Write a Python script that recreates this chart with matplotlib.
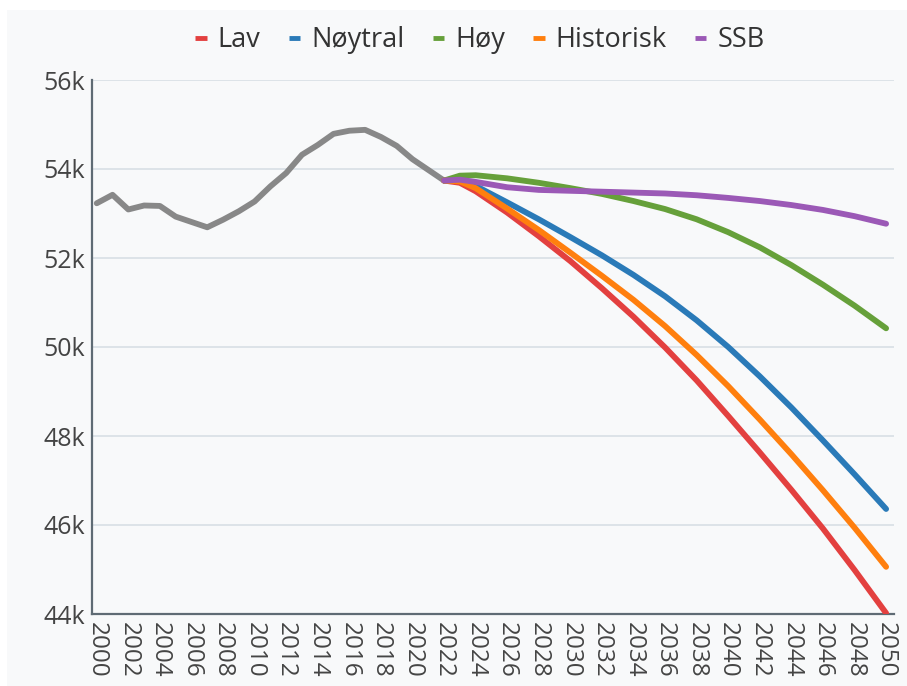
import matplotlib
matplotlib.use("Agg")
import matplotlib.pyplot as plt
from matplotlib.ticker import FixedLocator, FuncFormatter

plt.rcParams['font.family'] = ['Open Sans', 'DejaVu Sans']

# Historical
hist_years = list(range(2000, 2023))
hist_vals = [53.23, 53.42, 53.09, 53.18, 53.17, 52.93, 52.81, 52.69, 52.86, 53.05,
             53.27, 53.61, 53.91, 54.32, 54.54, 54.79, 54.86, 54.88, 54.72, 54.52,
             54.22, 53.98, 53.74]

# Scenarios
scen_years = [2022, 2023, 2024, 2026, 2028, 2030, 2032, 2034, 2036, 2038, 2040, 2042, 2044, 2046, 2048, 2050]
lav      = [53.74, 53.69, 53.50, 53.02, 52.49, 51.93, 51.32, 50.68, 49.99, 49.25, 48.45, 47.63, 46.79, 45.92, 44.99, 44.02]
noytral  = [53.74, 53.74, 53.62, 53.25, 52.87, 52.47, 52.06, 51.62, 51.14, 50.60, 50.00, 49.34, 48.64, 47.90, 47.14, 46.36]
hoy      = [53.74, 53.85, 53.86, 53.79, 53.69, 53.57, 53.44, 53.28, 53.10, 52.87, 52.58, 52.24, 51.84, 51.40, 50.93, 50.42]
historisk= [53.74, 53.72, 53.57, 53.11, 52.63, 52.12, 51.60, 51.06, 50.47, 49.82, 49.12, 48.37, 47.59, 46.78, 45.94, 45.06]
ssb      = [53.74, 53.76, 53.71, 53.59, 53.53, 53.51, 53.49, 53.47, 53.45, 53.41, 53.35, 53.28, 53.19, 53.08, 52.94, 52.77]

series_names = ["Lav", "Nøytral", "Høy", "Historisk", "SSB"]
series_vals = [lav, noytral, hoy, historisk, ssb]
colors = ["#e3403f", "#2a7ab8", "#66a03a", "#ff7f0e", "#9b59b6"]

yticks = [44, 46, 48, 50, 52, 54, 56]
xticks = list(range(2000, 2051, 2))

W, H = 907, 686
fig = plt.figure(figsize=(W / 100, H / 100), dpi=100)
fig.patch.set_facecolor("white")
bg = plt.Rectangle((7 / W, 0), 1 - 7 / W, 1 - 10 / H, transform=fig.transFigure,
                   facecolor="#f8f9fa", edgecolor="none", zorder=-10)
fig.patches.append(bg)

ax = fig.add_axes([92 / W, 1 - 614 / H, (894 - 92) / W, (614 - 80) / H])
ax.set_facecolor("#f8f9fa")

ax.plot(hist_years, hist_vals, color="#888888", lw=4.2, solid_capstyle="round",
        solid_joinstyle="round", zorder=3)
for name, vals, c in zip(series_names, series_vals, colors):
    ax.plot(scen_years, vals, color=c, lw=4.2, solid_capstyle="round",
            solid_joinstyle="round", label=name, zorder=4)

ax.set_xlim(1999.7, 2050.5)
ax.set_ylim(44, 56)
ax.yaxis.set_major_locator(FixedLocator(yticks))
ax.yaxis.set_major_formatter(FuncFormatter(lambda v, p: f"{int(round(v))}k"))
ax.set_xticks(xticks)
ax.set_xticklabels([str(x) for x in xticks], rotation=-90)
ax.tick_params(axis="y", length=0, pad=5, labelsize=18, labelcolor="#444444")
ax.tick_params(axis="x", length=0, pad=6, labelsize=17.5, labelcolor="#444444")
ax.grid(axis="y", color="#d5dde3", lw=1.1, zorder=0)
ax.set_axisbelow(True)
for s in ["top", "right"]:
    ax.spines[s].set_visible(False)
for s in ["left", "bottom"]:
    ax.spines[s].set_color("#5f6b74")
    ax.spines[s].set_linewidth(1.6)

leg = fig.legend(loc="center", bbox_to_anchor=(480 / W, 1 - 40 / H), ncol=5,
                 frameon=False, fontsize=19.5, handlelength=0.42, handletextpad=0.4,
                 columnspacing=1.05, labelcolor="#333333")
for line in leg.get_lines():
    line.set_linewidth(3.5)
    line.set_solid_capstyle("butt")

fig.savefig("out.png", dpi=100, facecolor=fig.get_facecolor())
